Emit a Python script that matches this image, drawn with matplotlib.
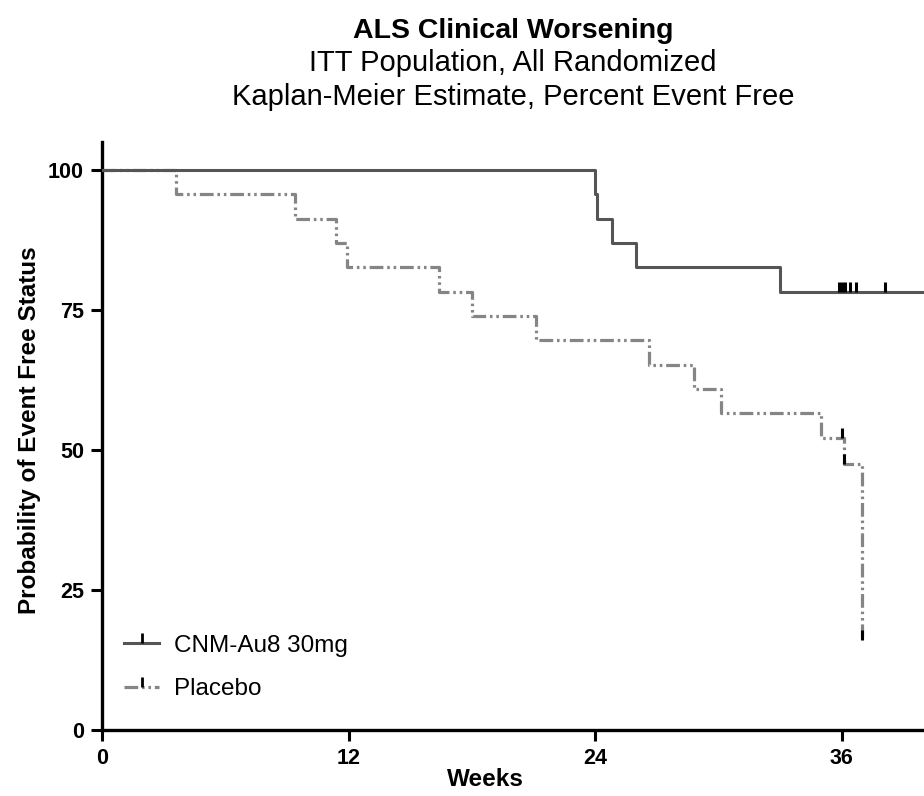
import matplotlib
matplotlib.use('Agg')
import matplotlib.pyplot as plt
from matplotlib.lines import Line2D

plt.rcParams['font.family'] = ['Liberation Sans', 'DejaVu Sans']

# Kaplan-Meier steps (weeks, percent event free)
cnm_time = [0, 24.0, 24.1, 24.8, 26.0, 33.0, 41.0]
cnm_surv = [100, 95.65, 91.30, 86.96, 82.61, 78.26, 78.26]
cnm_cens_time = [35.85, 36.0, 36.15, 36.4, 36.7, 38.1]
cnm_cens_surv = [78.26, 78.26, 78.26, 78.26, 78.26, 78.26]

pbo_time = [0, 3.6, 9.4, 11.4, 11.9, 16.4, 18.0, 21.1, 26.6, 28.8, 30.1, 35.0, 36.1, 37.0]
pbo_surv = [100, 95.65, 91.30, 86.96, 82.61, 78.26, 73.91, 69.57, 65.22, 60.87,
            56.52, 52.17, 47.43, 16.0]
pbo_cens_time = [36.0, 36.1, 37.0]
pbo_cens_surv = [52.17, 47.43, 16.0]

labels = ['CNM-Au8 30mg', 'Placebo']
xticks = [0, 12, 24, 36]
yticks = [0, 25, 50, 75, 100]

cnm_color = '#555555'
pbo_color = '#858585'
pbo_style = (0, (4.3, 1.2, 0.8, 1.2, 0.8, 1.2))

fig = plt.figure(figsize=(9.24, 7.96), dpi=100)
ax = fig.add_axes([0.1104, 0.0829, 0.8896, 0.7387])

ax.step(pbo_time, pbo_surv, where='post', color=pbo_color, lw=2.3,
        linestyle=pbo_style, zorder=2)
ax.step(cnm_time, cnm_surv, where='post', color=cnm_color, lw=2.2, zorder=3)
ax.plot(cnm_cens_time, cnm_cens_surv, linestyle='none', marker=2, markersize=7,
        mew=2.2, color='black', zorder=5)
ax.plot(pbo_cens_time, pbo_cens_surv, linestyle='none', marker=2, markersize=7,
        mew=2.2, color='black', zorder=5)

ax.set_xlim(0, 40)
ax.set_ylim(0, 105)
ax.set_xticks(xticks)
ax.set_yticks(yticks)
ax.tick_params(direction='out', length=8, width=2.2, labelsize=15.5, pad=5)
for lab in ax.get_xticklabels() + ax.get_yticklabels():
    lab.set_fontweight('bold')
for s in ['top', 'right']:
    ax.spines[s].set_visible(False)
for s in ['left', 'bottom']:
    ax.spines[s].set_linewidth(2.4)

ax.set_xlabel('Weeks', fontsize=17.5, fontweight='bold')
ax.xaxis.set_label_coords(0.466, -0.064)
ax.set_ylabel('Probability of Event Free Status', fontsize=17.5, fontweight='bold')
ax.yaxis.set_label_coords(-0.074, 0.51)

handles = [
    Line2D([], [], color=cnm_color, lw=2.2, marker=2, markersize=7, mew=2,
           mec='black'),
    Line2D([], [], color=pbo_color, lw=2.3, linestyle=pbo_style, marker=2,
           markersize=7, mew=2, mec='black'),
]
ax.legend(handles, labels, loc='lower left', bbox_to_anchor=(0.0, 0.013),
          frameon=False, fontsize=17.5, handlelength=1.45, handletextpad=0.6,
          labelspacing=0.9, numpoints=1)

cx = 0.1104 + 0.8896 / 2
fig.text(cx, 1 - 38 / 796, 'ALS Clinical Worsening', ha='center', va='baseline',
         fontsize=20.5, fontweight='bold')
fig.text(cx, 1 - 71 / 796, 'ITT Population, All Randomized', ha='center',
         va='baseline', fontsize=21)
fig.text(cx, 1 - 105 / 796, 'Kaplan-Meier Estimate, Percent Event Free',
         ha='center', va='baseline', fontsize=21)

fig.savefig('out.png', dpi=100)
